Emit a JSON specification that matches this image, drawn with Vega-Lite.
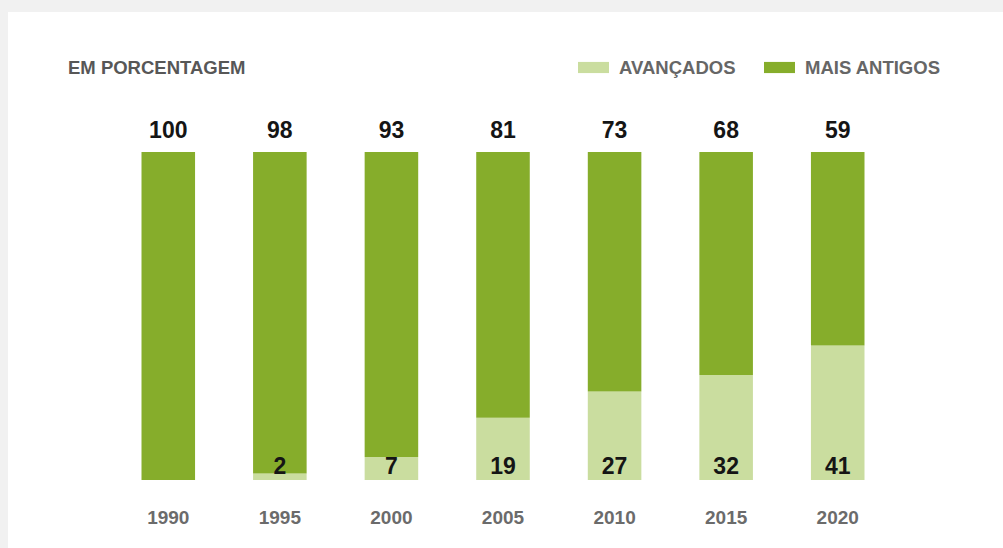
{
  "$schema": "https://vega.github.io/schema/vega-lite/v6.json",
  "width": 995,
  "height": 536,
  "autosize": {"type": "none"},
  "padding": {"left": 8, "top": 12, "right": 0, "bottom": 0},
  "background": "#f1f1f1",
  "config": {
    "view": {"fill": "#ffffff", "stroke": null},
    "font": "Liberation Sans"
  },
  "title": {
    "text": "EM PORCENTAGEM",
    "anchor": "start",
    "orient": "top",
    "frame": "group",
    "offset": 0,
    "baseline": "alphabetic",
    "dx": 60,
    "dy": 80,
    "font": "Liberation Sans",
    "fontSize": 18.5,
    "fontWeight": "bold",
    "color": "#575757"
  },
  "data": {
    "values": [
      {"ano": "1990", "serie": "AVANÇADOS", "valor": 0},
      {"ano": "1990", "serie": "MAIS ANTIGOS", "valor": 100},
      {"ano": "1995", "serie": "AVANÇADOS", "valor": 2},
      {"ano": "1995", "serie": "MAIS ANTIGOS", "valor": 98},
      {"ano": "2000", "serie": "AVANÇADOS", "valor": 7},
      {"ano": "2000", "serie": "MAIS ANTIGOS", "valor": 93},
      {"ano": "2005", "serie": "AVANÇADOS", "valor": 19},
      {"ano": "2005", "serie": "MAIS ANTIGOS", "valor": 81},
      {"ano": "2010", "serie": "AVANÇADOS", "valor": 27},
      {"ano": "2010", "serie": "MAIS ANTIGOS", "valor": 73},
      {"ano": "2015", "serie": "AVANÇADOS", "valor": 32},
      {"ano": "2015", "serie": "MAIS ANTIGOS", "valor": 68},
      {"ano": "2020", "serie": "AVANÇADOS", "valor": 41},
      {"ano": "2020", "serie": "MAIS ANTIGOS", "valor": 59}
    ]
  },
  "encoding": {
    "x": {
      "field": "ano",
      "type": "nominal",
      "axis": null,
      "scale": {"paddingInner": 0.52, "paddingOuter": 0, "range": [133.5, 856.5]}
    }
  },
  "layer": [
    {
      "mark": {"type": "bar"},
      "encoding": {
        "y": {
          "field": "valor",
          "type": "quantitative",
          "stack": "zero",
          "axis": null,
          "scale": {"domain": [-20.73, 142.68], "nice": false, "zero": false}
        },
        "order": {"field": "serie", "sort": "ascending"},
        "color": {
          "field": "serie",
          "type": "nominal",
          "scale": {"domain": ["AVANÇADOS", "MAIS ANTIGOS"], "range": ["#cadd9f", "#86ad2b"]},
          "legend": {
            "title": null,
            "orient": "none",
            "direction": "horizontal",
            "legendX": 570,
            "legendY": 40,
            "padding": 0,
            "symbolType": "M-1,-0.36H1V0.36H-1Z",
            "symbolSize": 961,
            "symbolStrokeWidth": 0,
            "symbolOpacity": 1,
            "labelOffset": 10,
            "columnPadding": 28,
            "labelFont": "Liberation Sans",
            "labelFontSize": 18.5,
            "labelFontWeight": "bold",
            "labelColor": "#666666",
            "labelLimit": 300
          }
        }
      }
    },
    {
      "transform": [{"filter": "datum.serie === 'MAIS ANTIGOS'"}],
      "mark": {"type": "text", "dy": -21, "baseline": "middle", "fontSize": 23, "fontWeight": "bold", "color": "#151515"},
      "encoding": {
        "y": {"datum": 100, "type": "quantitative"},
        "text": {"field": "valor", "type": "quantitative"}
      }
    },
    {
      "transform": [{"filter": "datum.serie === 'AVANÇADOS' && datum.valor > 0"}],
      "mark": {"type": "text", "dy": -13, "baseline": "middle", "fontSize": 23, "fontWeight": "bold", "color": "#151515"},
      "encoding": {
        "y": {"datum": 0, "type": "quantitative"},
        "text": {"field": "valor", "type": "quantitative"}
      }
    },
    {
      "transform": [{"filter": "datum.serie === 'MAIS ANTIGOS'"}],
      "mark": {"type": "text", "dy": 38, "baseline": "middle", "fontSize": 19, "fontWeight": "bold", "color": "#6b6b6b"},
      "encoding": {
        "y": {"datum": 0, "type": "quantitative"},
        "text": {"field": "ano", "type": "nominal"}
      }
    }
  ]
}
